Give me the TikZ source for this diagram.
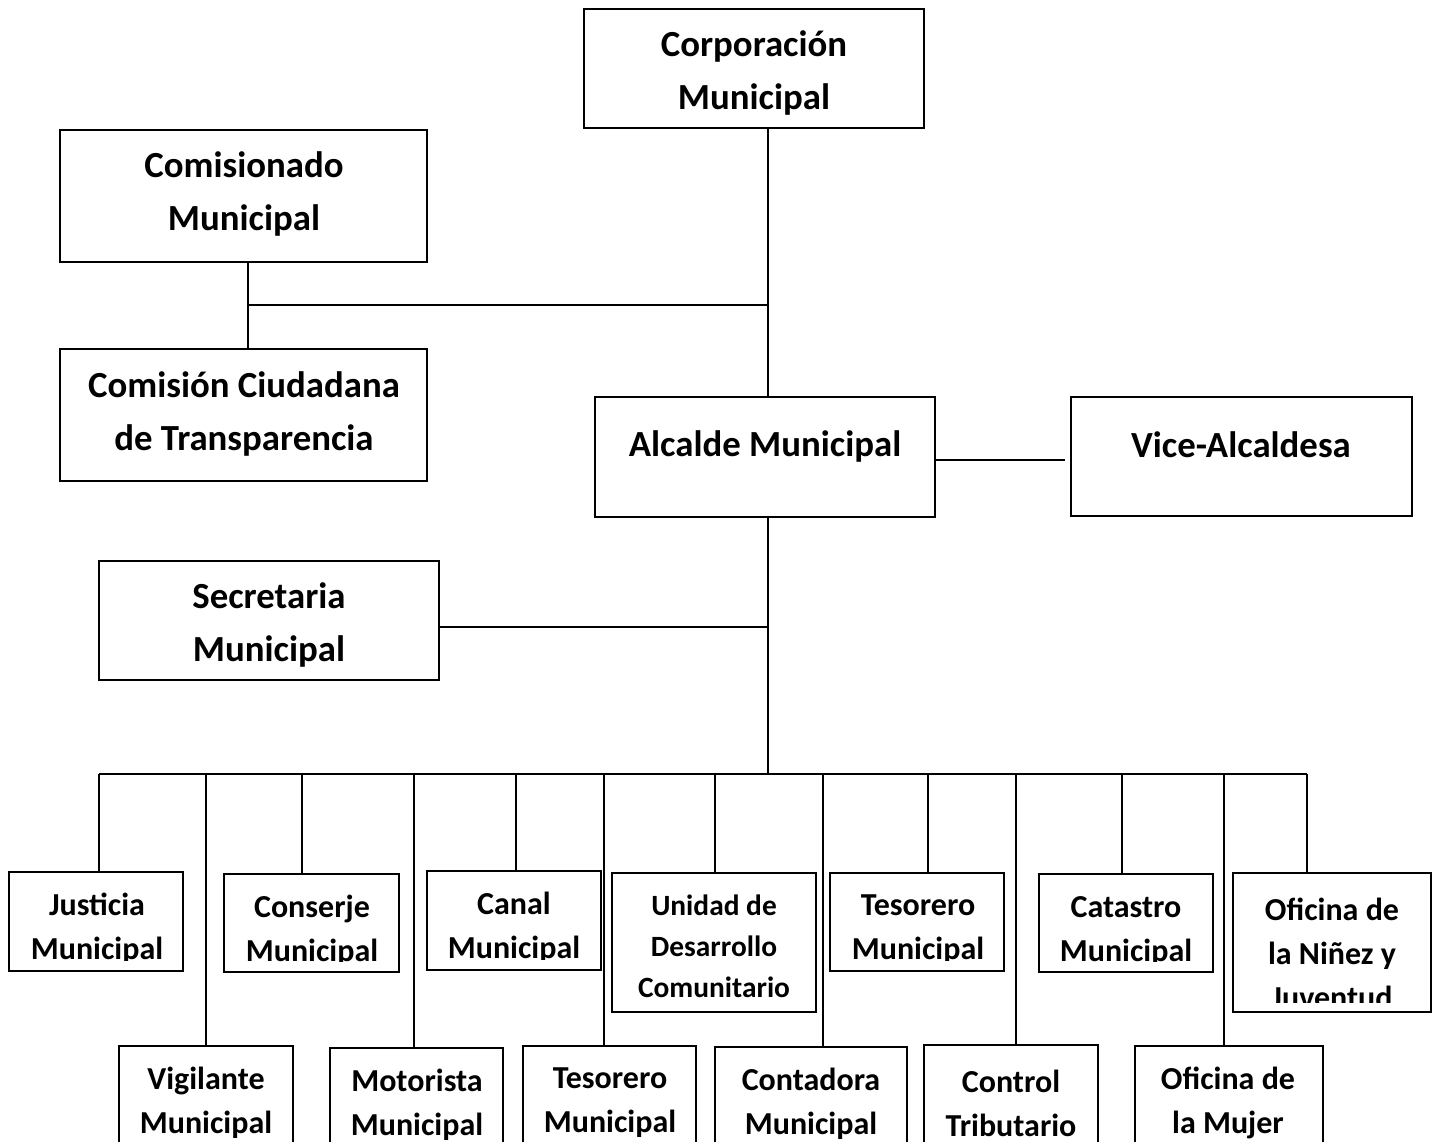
\documentclass[tikz,border=0pt]{standalone}
\usepackage{fontspec}
\setmainfont{Carlito}
\tikzset{
  box/.style={draw, line width=0.8pt, inner sep=0pt, outer sep=0pt},
  conn/.style={draw, line width=0.8pt},
  lbig/.style={font=\bfseries\fontsize{18.4}{26.5}\selectfont, align=center, inner sep=0pt},
  lmid/.style={font=\bfseries\fontsize{16}{22}\selectfont, align=center, inner sep=0pt},
  lsmall/.style={font=\bfseries\fontsize{14.7}{20.5}\selectfont, align=center, inner sep=0pt}
}
\def\cy{2000}
% name, left, top, right, bottom, text x, text y, text style, text
% text is clipped at y = \cy (the text area of the box)
\newcommand\obox[9]{%
  \pgfmathsetmacro\bw{(#4-#2)*0.5}%
  \pgfmathsetmacro\bh{(#5-#3)*0.5}%
  \node[box, minimum width=\bw pt, minimum height=\bh pt] (#1) at ({(#2+#4)/2},{(#3+#5)/2}) {};
  \begin{scope}
    \clip (#2,#3) rectangle (#4,\cy);
    \node[#8] (#1-t) at ({#6},{#7+3}) {#9};
  \end{scope}
}
\begin{document}
\begin{tikzpicture}[x=0.5pt, y=-0.5pt]
\fill[white] (0,0) rectangle (1437,1142);
\clip (0,0) rectangle (1437,1142);

% upper levels
\obox{corp}{584}{9}{924}{128}{754}{70}{lbig}{Corporación\\Municipal}
\obox{comi}{60}{130}{427}{262}{244}{191}{lbig}{Comisionado\\Municipal}
\obox{cct}{60}{349}{427}{481}{244}{411}{lbig}{Comisión Ciudadana\\de Transparencia}
\obox{alc}{595}{397}{935}{517}{765}{443}{lbig}{Alcalde Municipal}
\obox{vice}{1071}{397}{1412}{516}{1241}{442}{lbig}{Vice-Alcaldesa}
\obox{sec}{99}{561}{439}{680}{269}{622}{lbig}{Secretaria\\Municipal}

% first row of departments
\def\cy{960}
\obox{just}{9}{872}{183}{971}{97}{926}{lmid}{Justicia\\Municipal}
\def\cy{961}
\obox{cons}{224}{874}{399}{972}{312}{928}{lmid}{Conserje\\Municipal}
\def\cy{959}
\obox{canal}{427}{871}{601}{970}{514}{925}{lmid}{Canal\\Municipal}
\def\cy{2000}
\obox{udc}{612}{873}{816}{1012}{714}{943}{lsmall}{Unidad de\\Desarrollo\\Comunitario}
\def\cy{960}
\obox{tesa}{830}{873}{1004}{971}{918}{927}{lmid}{Tesorero\\Municipal}
\def\cy{961}
\obox{cat}{1039}{874}{1213}{972}{1126}{929}{lmid}{Catastro\\Municipal}
\def\cy{1002}
\obox{ofn}{1233}{873}{1431}{1012}{1332}{950}{lmid}{Oficina de\\la Niñez y\\Juventud}
\def\cy{2000}

% second row of departments
\obox{vig}{119}{1046}{293}{1175}{206}{1100}{lmid}{Vigilante\\Municipal}
\obox{mot}{330}{1048}{503}{1175}{417}{1102}{lmid}{Motorista\\Municipal}
\obox{tesb}{523}{1046}{696}{1175}{610}{1100}{lmid}{Tesorero\\Municipal}
\obox{cont}{715}{1047}{907}{1175}{811}{1101}{lmid}{Contadora\\Municipal}
\obox{ctrl}{924}{1045}{1098}{1175}{1011}{1100}{lmid}{Control\\Tributario}
\obox{ofm}{1135}{1046}{1323}{1175}{1228}{1100}{lmid}{Oficina de\\la Mujer}

% junctions
\coordinate (trunk) at (768,305);
\coordinate (left) at (248,305);
\coordinate (secj) at (768,627);
\coordinate (bus) at (768,774);
\coordinate (busL) at (99,774);
\coordinate (busR) at (1307,774);
\coordinate (vicej) at (1065,460);

\path[conn] (corp.south -| trunk) -- (alc.north -| trunk);
\path[conn] (left) -- (trunk);
\path[conn] (comi.south -| left) -- (cct.north -| left);
\path[conn] (alc.east |- vicej) -- (vicej);
\path[conn] (alc.south -| bus) -- (bus);
\path[conn] (sec.east |- secj) -- (secj);
\path[conn] (busL) -- (busR);

\foreach \n/\x in {just/99, vig/206, cons/302, mot/414, canal/516, tesb/604,
                   udc/715, cont/823, tesa/928, ctrl/1016, cat/1122, ofm/1224, ofn/1307}{
  \coordinate (d-\n) at (\x,774);
  \path[conn] (d-\n) -- (\n.north -| d-\n);
}
\end{tikzpicture}
\end{document}
